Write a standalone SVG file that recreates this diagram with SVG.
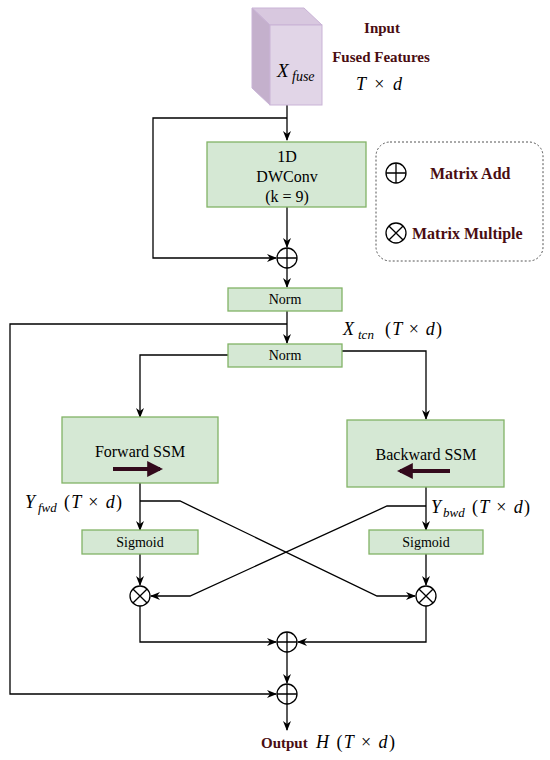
<svg xmlns="http://www.w3.org/2000/svg" width="550" height="760" viewBox="0 0 550 760">
<style>
.box{fill:#d5e8d4;stroke:#82b366;stroke-width:1.3}
.ln{fill:none;stroke:#000;stroke-width:1.3}
.op{fill:#fff;stroke:#000;stroke-width:1.3}
.t{font-family:'Liberation Serif','DejaVu Serif',serif;fill:#000;text-anchor:middle}
.lb{font-family:'Liberation Serif','DejaVu Serif',serif;font-weight:bold;fill:#4a0d12}
.m{font-family:'Liberation Serif','DejaVu Serif',serif;font-style:italic;fill:#000}
.s{font-family:'Liberation Serif','DejaVu Serif',serif;font-style:italic;fill:#000;font-size:13px}
.n{font-style:normal}
</style>
<defs>
<marker id="a" viewBox="0 0 10 8" refX="9" refY="4" markerWidth="10" markerHeight="8" markerUnits="userSpaceOnUse" orient="auto">
<path d="M0,0 L10,4 L0,8 L3,4 z" fill="#000"/>
</marker>
<marker id="ah" viewBox="0 0 10 10" refX="8" refY="5" markerWidth="4" markerHeight="4" orient="auto">
<path d="M0,0 L10,5 L0,10 z" fill="#330a1c"/>
</marker>
<g id="plus"><circle r="10" class="op"/><path d="M-10,0H10M0,-10V10" class="ln"/></g>
<g id="times"><circle r="10" class="op"/><path d="M-7.07,-7.07L7.07,7.07M7.07,-7.07L-7.07,7.07" class="ln"/></g>
</defs>

<g id="connectors">
<path class="ln" d="M287,105V140" marker-end="url(#a)"/>
<path class="ln" d="M287,118H153V258H276" marker-end="url(#a)"/>
<path class="ln" d="M287,207V247" marker-end="url(#a)"/>
<path class="ln" d="M287,268V287" marker-end="url(#a)"/>
<path class="ln" d="M287,311V343" marker-end="url(#a)"/>
<path class="ln" d="M287,324H10V694H276" marker-end="url(#a)"/>
<path class="ln" d="M228,355H140V417" marker-end="url(#a)"/>
<path class="ln" d="M342,351H426V419" marker-end="url(#a)"/>
<path class="ln" d="M140,483V530" marker-end="url(#a)"/>
<path class="ln" d="M426,487V530" marker-end="url(#a)"/>
<path class="ln" d="M140,501H180L377,596H415" marker-end="url(#a)"/>
<path class="ln" d="M426,506H387L190,596H151" marker-end="url(#a)"/>
<path class="ln" d="M140,554V585" marker-end="url(#a)"/>
<path class="ln" d="M426,554V585" marker-end="url(#a)"/>
<path class="ln" d="M140,606V642H276" marker-end="url(#a)"/>
<path class="ln" d="M426,606V642H298" marker-end="url(#a)"/>
<path class="ln" d="M287,652V683" marker-end="url(#a)"/>
<path class="ln" d="M287,704V730" marker-end="url(#a)"/>
</g>

<g id="input">
<path d="M252,8H304L322,25H270Z" fill="#d8c8df" stroke="#c9b3d6" stroke-width="1"/>
<path d="M252,8L270,25V105L252,88Z" fill="#c4b0cc" stroke="#c9b3d6" stroke-width="1"/>
<rect x="270" y="25" width="52" height="80" fill="#e1d5e7" stroke="#c9b3d6" stroke-width="1"/>
<text class="m" x="277" y="77" font-size="19">X</text>
<text class="s" x="292" y="81" font-size="14" style="font-size:14px">fuse</text>
<text class="lb" x="382" y="33" font-size="15" text-anchor="middle">Input</text>
<text class="lb" x="381" y="62" font-size="15" text-anchor="middle">Fused Features</text>
<text class="m" x="356" y="90" font-size="18" textLength="46" lengthAdjust="spacing">T <tspan class="n">×</tspan> d</text>
</g>

<g id="dwconv">
<rect class="box" x="207" y="142" width="159" height="65"/>
<text class="t" x="287" y="162" font-size="16">1D</text>
<text class="t" x="287" y="182" font-size="16">DWConv</text>
<text class="t" x="287" y="202" font-size="16">(k = 9)</text>
</g>

<g id="add1"><use href="#plus" x="287" y="258"/></g>

<g id="norm1">
<rect class="box" x="228" y="288" width="114" height="23"/>
<text class="t" x="285" y="304" font-size="14">Norm</text>
</g>

<g id="xtcn">
<text class="m" x="343" y="335" font-size="18">X</text>
<text class="s" x="358" y="339">tcn</text>
<text class="m" x="385" y="335" font-size="18" textLength="57" lengthAdjust="spacing"><tspan class="n">(</tspan>T <tspan class="n">×</tspan> d<tspan class="n">)</tspan></text>
</g>

<g id="norm2">
<rect class="box" x="228" y="344" width="114" height="23"/>
<text class="t" x="285" y="360" font-size="14">Norm</text>
</g>

<g id="fwd">
<rect class="box" x="62" y="417" width="156" height="66"/>
<text class="t" x="140" y="457" font-size="16">Forward SSM</text>
<path d="M113,469H160" stroke="#330a1c" stroke-width="4" marker-end="url(#ah)"/>
</g>

<g id="bwd">
<rect class="box" x="347" y="420" width="157" height="67"/>
<text class="t" x="426" y="460" font-size="16">Backward SSM</text>
<path d="M450,471H400" stroke="#330a1c" stroke-width="4" marker-end="url(#ah)"/>
</g>

<g id="yfwd">
<text class="m" x="25" y="508" font-size="18">Y</text>
<text class="s" x="38" y="512">fwd</text>
<text class="m" x="64" y="508" font-size="18" textLength="58" lengthAdjust="spacing"><tspan class="n">(</tspan>T <tspan class="n">×</tspan> d<tspan class="n">)</tspan></text>
</g>

<g id="ybwd">
<text class="m" x="431" y="513" font-size="18">Y</text>
<text class="s" x="443" y="517">bwd</text>
<text class="m" x="472" y="513" font-size="18" textLength="58" lengthAdjust="spacing"><tspan class="n">(</tspan>T <tspan class="n">×</tspan> d<tspan class="n">)</tspan></text>
</g>

<g id="sig1">
<rect class="box" x="82" y="530" width="116" height="24"/>
<text class="t" x="140" y="547" font-size="14">Sigmoid</text>
</g>
<g id="sig2">
<rect class="box" x="369" y="530" width="114" height="24"/>
<text class="t" x="426" y="547" font-size="14">Sigmoid</text>
</g>

<g id="mul1"><use href="#times" x="140" y="596"/></g>
<g id="mul2"><use href="#times" x="426" y="596"/></g>
<g id="add2"><use href="#plus" x="287" y="642"/></g>
<g id="add3"><use href="#plus" x="287" y="694"/></g>

<g id="output">
<text class="lb" x="261" y="748" font-size="15">Output</text>
<text class="m" x="316" y="748" font-size="18" textLength="79" lengthAdjust="spacing">H <tspan class="n">(</tspan>T <tspan class="n">×</tspan> d<tspan class="n">)</tspan></text>
</g>

<g id="legend">
<rect x="376" y="142" width="167" height="119" rx="14" fill="none" stroke="#555" stroke-width="1" stroke-dasharray="2,2"/>
<use href="#plus" x="396" y="173"/>
<text class="lb" x="430" y="179" font-size="16">Matrix Add</text>
<use href="#times" x="396" y="233"/>
<text class="lb" x="412" y="239" font-size="16">Matrix Multiple</text>
</g>
</svg>
